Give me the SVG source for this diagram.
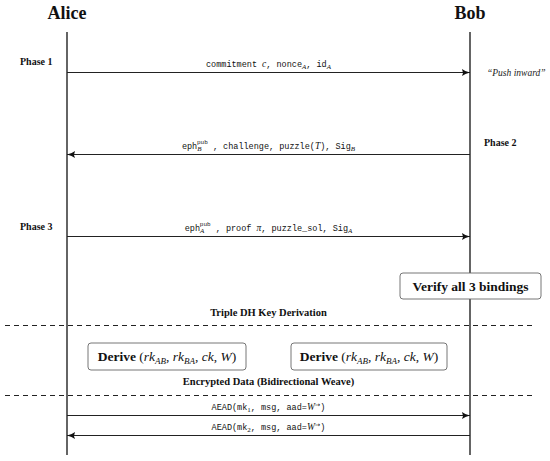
<svg xmlns="http://www.w3.org/2000/svg" width="550" height="461" viewBox="0 0 550 461">
<style>
.title{font-family:"Liberation Serif",serif;font-weight:bold;font-size:18px;fill:#111;text-anchor:middle}
.phase{font-family:"Liberation Serif",serif;font-weight:bold;font-size:10px;fill:#111}
.sec{font-family:"Liberation Serif",serif;font-weight:bold;font-size:10.5px;fill:#111;text-anchor:middle}
.mono{font-family:"Liberation Mono",monospace;font-size:8.5px;fill:#111;text-anchor:middle}
.mi{font-family:"Liberation Serif",serif;font-style:italic;font-size:9.5px}
.sub{font-family:"Liberation Serif",serif;font-style:italic;font-size:7px}
.subr{font-family:"Liberation Serif",serif;font-size:7px}
.sup{font-family:"Liberation Mono",monospace;font-size:6px}
.arrsup{font-family:"DejaVu Sans",sans-serif;font-size:6.5px}
.life{stroke:#111;stroke-width:1.3;fill:none}
.msg{stroke:#222;stroke-width:1.2;fill:none}
.dash{stroke:#222;stroke-width:1.2;stroke-dasharray:5,4;fill:none}
.box{fill:#fff;stroke:#666;stroke-width:0.9}
.boxtxt{font-family:"Liberation Serif",serif;font-size:13.5px;fill:#111;text-anchor:middle}
.note{font-family:"Liberation Serif",serif;font-style:italic;font-size:9.5px;fill:#222}
</style>
<defs>
<marker id="arr" markerUnits="userSpaceOnUse" markerWidth="10" markerHeight="8" refX="8" refY="3.5" orient="auto">
<path d="M0,0 Q3,2.5 8,3.5 Q3,4.5 0,7 Q1.8,3.5 0,0 Z" fill="#111"/>
</marker>
</defs>

<g id="alice">
<text class="title" x="67" y="19">Alice</text>
<line class="life" x1="67" y1="32" x2="67" y2="455"/>
</g>
<g id="bob">
<text class="title" x="470" y="19">Bob</text>
<line class="life" x1="470" y1="32" x2="470" y2="455"/>
</g>

<g id="phases">
<text class="phase" x="20" y="65">Phase 1</text>
<text class="phase" x="484" y="146">Phase 2</text>
<text class="phase" x="20" y="230">Phase 3</text>
<text class="note" x="487" y="76">“Push inward”</text>
</g>

<g id="sections">
<line class="dash" x1="5" y1="325.5" x2="532" y2="325.5"/>
<line class="dash" x1="5" y1="395.5" x2="532" y2="395.5"/>
<text class="sec" x="268.5" y="316">Triple DH Key Derivation</text>
<text class="sec" x="268.5" y="385">Encrypted Data (Bidirectional Weave)</text>
</g>

<g id="connectors">
<line class="msg" x1="67" y1="72.5" x2="470" y2="72.5" marker-end="url(#arr)"/>
<text class="mono" x="268.5" y="67">commitment <tspan class="mi">c</tspan>, nonce<tspan class="sub" dy="1.8">A</tspan><tspan dy="-1.8">, id</tspan><tspan class="sub" dy="1.8">A</tspan></text>

<line class="msg" x1="470" y1="154.5" x2="67" y2="154.5" marker-end="url(#arr)"/>
<text class="mono" x="268.5" y="149">eph<tspan class="sub" dy="2.2">B</tspan><tspan class="sup" dx="-4.5" dy="-6.8">pub</tspan><tspan dy="4.6"> , challenge, puzzle(</tspan><tspan class="mi">T</tspan>), Sig<tspan class="sub" dy="1.8">B</tspan></text>

<line class="msg" x1="67" y1="236.5" x2="470" y2="236.5" marker-end="url(#arr)"/>
<text class="mono" x="268.5" y="231">eph<tspan class="sub" dy="2.2">A</tspan><tspan class="sup" dx="-4.5" dy="-6.8">pub</tspan><tspan dy="4.6"> , proof </tspan><tspan class="mi">π</tspan>, puzzle_sol, Sig<tspan class="sub" dy="1.8">A</tspan></text>

<line class="msg" x1="67" y1="415.5" x2="470" y2="415.5" marker-end="url(#arr)"/>
<text class="mono" x="268.5" y="410">AEAD(mk<tspan class="subr" dy="1.8">1</tspan><tspan dy="-1.8">, msg, aad=</tspan><tspan class="mi">W</tspan><tspan class="arrsup" dy="-3.5">→</tspan><tspan dy="3.5">)</tspan></text>

<line class="msg" x1="470" y1="435.5" x2="67" y2="435.5" marker-end="url(#arr)"/>
<text class="mono" x="268.5" y="430">AEAD(mk<tspan class="subr" dy="1.8">2</tspan><tspan dy="-1.8">, msg, aad=</tspan><tspan class="mi">W</tspan><tspan class="arrsup" dy="-3.5">→</tspan><tspan dy="3.5">)</tspan></text>
</g>

<g id="verify">
<rect class="box" x="400" y="273" width="141" height="26" rx="3"/>
<text class="boxtxt" x="470.5" y="290.5" font-weight="bold">Verify all 3 bindings</text>
</g>

<g id="derive-alice">
<rect class="box" x="88" y="343" width="158" height="27" rx="3"/>
<text class="boxtxt" x="167" y="361"><tspan font-weight="bold">Derive</tspan> (<tspan font-style="italic">rk</tspan><tspan font-style="italic" font-size="9" dy="2.5">AB</tspan><tspan dy="-2.5">, </tspan><tspan font-style="italic">rk</tspan><tspan font-style="italic" font-size="9" dy="2.5">BA</tspan><tspan dy="-2.5">, </tspan><tspan font-style="italic">ck</tspan>, <tspan font-style="italic">W</tspan>)</text>
</g>
<g id="derive-bob">
<rect class="box" x="291" y="343" width="156" height="27" rx="3"/>
<text class="boxtxt" x="369" y="361"><tspan font-weight="bold">Derive</tspan> (<tspan font-style="italic">rk</tspan><tspan font-style="italic" font-size="9" dy="2.5">AB</tspan><tspan dy="-2.5">, </tspan><tspan font-style="italic">rk</tspan><tspan font-style="italic" font-size="9" dy="2.5">BA</tspan><tspan dy="-2.5">, </tspan><tspan font-style="italic">ck</tspan>, <tspan font-style="italic">W</tspan>)</text>
</g>
</svg>
